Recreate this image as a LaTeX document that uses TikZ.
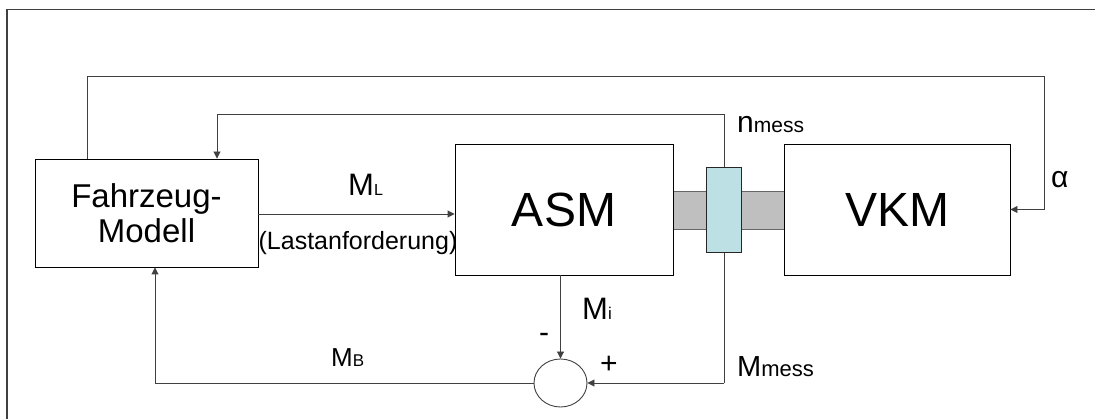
\documentclass[tikz,border=0pt]{standalone}
\usepackage{fontspec}
\setmainfont{Liberation Sans}
\usetikzlibrary{arrows.meta,shapes.geometric}
\newcommand{\fs}[1]{\fontsize{#1}{#1}\selectfont}
\begin{document}
\begin{tikzpicture}[x=1pt,y=-1pt,
  blk/.style={draw=black,line width=0.9pt,fill=white,rectangle,inner sep=0pt,align=center},
  wire/.style={draw=black!75,line width=0.9pt},
  arr/.style={wire,-{Triangle[length=7pt,width=7pt]}},
  lbl/.style={inner sep=0pt,anchor=base west}]
\useasboundingbox (0,0) rectangle (1095,419);
% frame
\draw[black!75,line width=1.6pt] (7,419) -- (7,9.5) -- (1095,9.5);
% shaft
\fill[black!25] (673,191) rectangle (784,229);
\draw[black!60,line width=0.7pt] (673,191) -- (784,191) (673,229) -- (784,229);
% blocks
\node[blk,minimum width=223pt,minimum height=108pt,font={\fontsize{33}{35}\selectfont}] (fz) at (146.5,213) {Fahrzeug-\\Modell};
\node[blk,minimum width=218pt,minimum height=131pt] (asm) at (564,209.5) {\fs{48}ASM};
\node[blk,minimum width=226pt,minimum height=131pt] (vkm) at (897,209.5) {\fs{48}VKM};
\node[ellipse,draw=black!75,line width=0.9pt,inner sep=0pt,minimum width=53pt,minimum height=48pt] (sum) at (560.5,383) {};
% tap line
\coordinate (tapT) at (724,114);
\coordinate (tapB) at (724,383);
\draw[wire] (tapT) -- (tapB);
\node[draw=black!85,line width=0.9pt,fill={rgb,255:red,188;green,224;blue,228},minimum width=35pt,minimum height=85pt,inner sep=0pt] (coup) at (723.5,209.5) {};
% connectors
\coordinate (c1) at (217,114);
\draw[arr] (tapT) -- (c1) -- (c1 |- fz.north);
\coordinate (o1) at (87,76);
\coordinate (o2) at (1044,76);
\draw[arr] (o1 |- fz.north) -- (o1) -- (o2) -- (o2 |- vkm.east) -- (vkm.east);
\draw[arr] (fz.east |- 0,214) -- (asm.west |- 0,214);
\draw[arr] (asm.south -| sum.north) -- (sum.north);
\draw[arr] (tapB) -- (sum.east);
\coordinate (b1) at (155,383);
\draw[arr] (sum.west) -- (b1) -- (b1 |- fz.south);
% labels
\node[lbl] (lML) at (348,196) {\fs{31}M\fs{16}L};
\node[inner sep=0pt,anchor=base] (lLast) at (358,250) {\fs{25}(Lastanforderung)};
\node[lbl] (lnm) at (737,133) {\fs{30}n\fs{21}mess};
\node[lbl] (lal) at (1051,188) {\fs{30}α};
\node[lbl] (lMi) at (582,320) {\fs{31}M\fs{17}i};
\node[inner sep=0pt] (lminus) at (544,338) {\fs{30}-};
\node[inner sep=0pt] (lplus) at (609,365) {\fs{30}+};
\node[lbl] (lMB) at (331,367) {\fs{26}M\fs{17}B};
\node[lbl] (lMm) at (737,377) {\fs{29}M\fs{22}mess};
\end{tikzpicture}
\end{document}
